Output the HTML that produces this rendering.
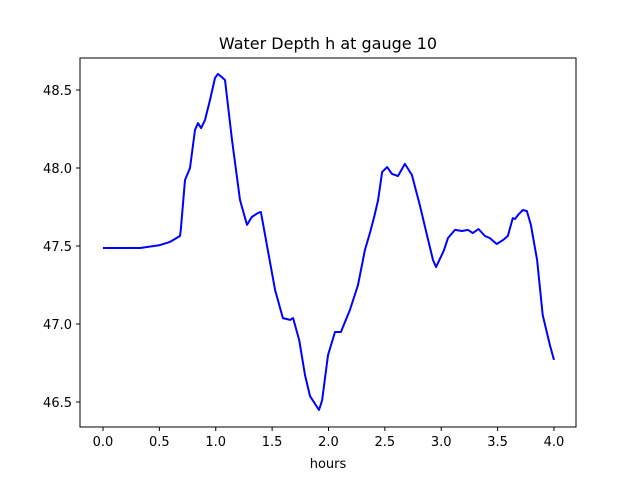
<!DOCTYPE html>
<html><head><meta charset="utf-8"><style>
body{margin:0;background:#fff;}
svg text{font-family:"DejaVu Sans","Liberation Sans",sans-serif;fill:#000;}
</style></head><body>
<svg id="chart" width="640" height="480" xmlns="http://www.w3.org/2000/svg">
<rect width="640" height="480" fill="#fff"/>
<text x="328" y="49" font-size="16" text-anchor="middle">Water Depth h at gauge 10</text>
<text x="328" y="468" font-size="13" text-anchor="middle">hours</text>
<g id="ticks"></g>
<path id="line" fill="none" stroke="#0000ff" stroke-width="2" stroke-linejoin="round"/>
<rect x="80" y="58" width="496" height="369" fill="none" stroke="#000" stroke-width="1"/>
</svg>
<script>
const hours=[0,0.33,0.505,0.594,0.683,0.69,0.727,0.772,0.816,0.843,0.87,0.905,0.949,0.993,1.02,1.082,1.144,1.215,1.277,1.32,1.375,1.4,1.446,1.526,1.596,1.66,1.686,1.74,1.792,1.836,1.916,1.943,1.996,2.058,2.11,2.19,2.262,2.323,2.37,2.41,2.44,2.475,2.52,2.563,2.616,2.678,2.74,2.81,2.883,2.927,2.954,3.024,3.06,3.122,3.184,3.237,3.28,3.33,3.387,3.43,3.492,3.547,3.59,3.635,3.654,3.68,3.724,3.76,3.795,3.85,3.9,3.964,4.0];
const depth=[47.487,47.487,47.506,47.526,47.564,47.603,47.923,48.0,48.244,48.288,48.256,48.308,48.436,48.577,48.603,48.564,48.18,47.795,47.635,47.686,47.712,47.718,47.538,47.218,47.038,47.026,47.038,46.897,46.673,46.538,46.449,46.51,46.8,46.949,46.949,47.09,47.25,47.474,47.59,47.7,47.795,47.974,48.006,47.962,47.949,48.026,47.955,47.763,47.54,47.41,47.365,47.474,47.551,47.603,47.596,47.603,47.583,47.609,47.564,47.551,47.513,47.538,47.564,47.679,47.673,47.698,47.731,47.724,47.635,47.41,47.058,46.865,46.77];
const xTicks=[0,0.5,1,1.5,2,2.5,3,3.5,4];
const yTicks=[46.5,47.0,47.5,48.0,48.5];
const xs=h=>103+112.75*h;
const ys=v=>90+(48.5-v)*156;
const NS="http://www.w3.org/2000/svg";
const g=document.getElementById('ticks');
xTicks.forEach(t=>{
 const l=document.createElementNS(NS,'line');
 
 
 l.setAttribute('x1',xs(t));l.setAttribute('x2',xs(t));l.setAttribute('y1',427);l.setAttribute('y2',431);l.setAttribute('stroke','#000');
 g.appendChild(l);
 const tx=document.createElementNS(NS,'text');
 
 
 tx.setAttribute('x',xs(t));tx.setAttribute('y',446);tx.setAttribute('font-size','13');tx.setAttribute('text-anchor','middle');
 tx.textContent=t.toFixed(1);g.appendChild(tx);
});
yTicks.forEach(t=>{
 const l=document.createElementNS(NS,'line');
 
 
 l.setAttribute('x1',76);l.setAttribute('x2',80);l.setAttribute('y1',ys(t));l.setAttribute('y2',ys(t));l.setAttribute('stroke','#000');
 g.appendChild(l);
 const tx=document.createElementNS(NS,'text');
 
 
 tx.setAttribute('x',72);tx.setAttribute('y',ys(t)+5);tx.setAttribute('font-size','13');tx.setAttribute('text-anchor','end');
 tx.textContent=t.toFixed(1);g.appendChild(tx);
});
document.getElementById('line').setAttribute('d',hours.map((h,i)=>(i?'L':'M')+xs(h).toFixed(1)+','+ys(depth[i]).toFixed(1)).join(''));
</script>
</body></html>
